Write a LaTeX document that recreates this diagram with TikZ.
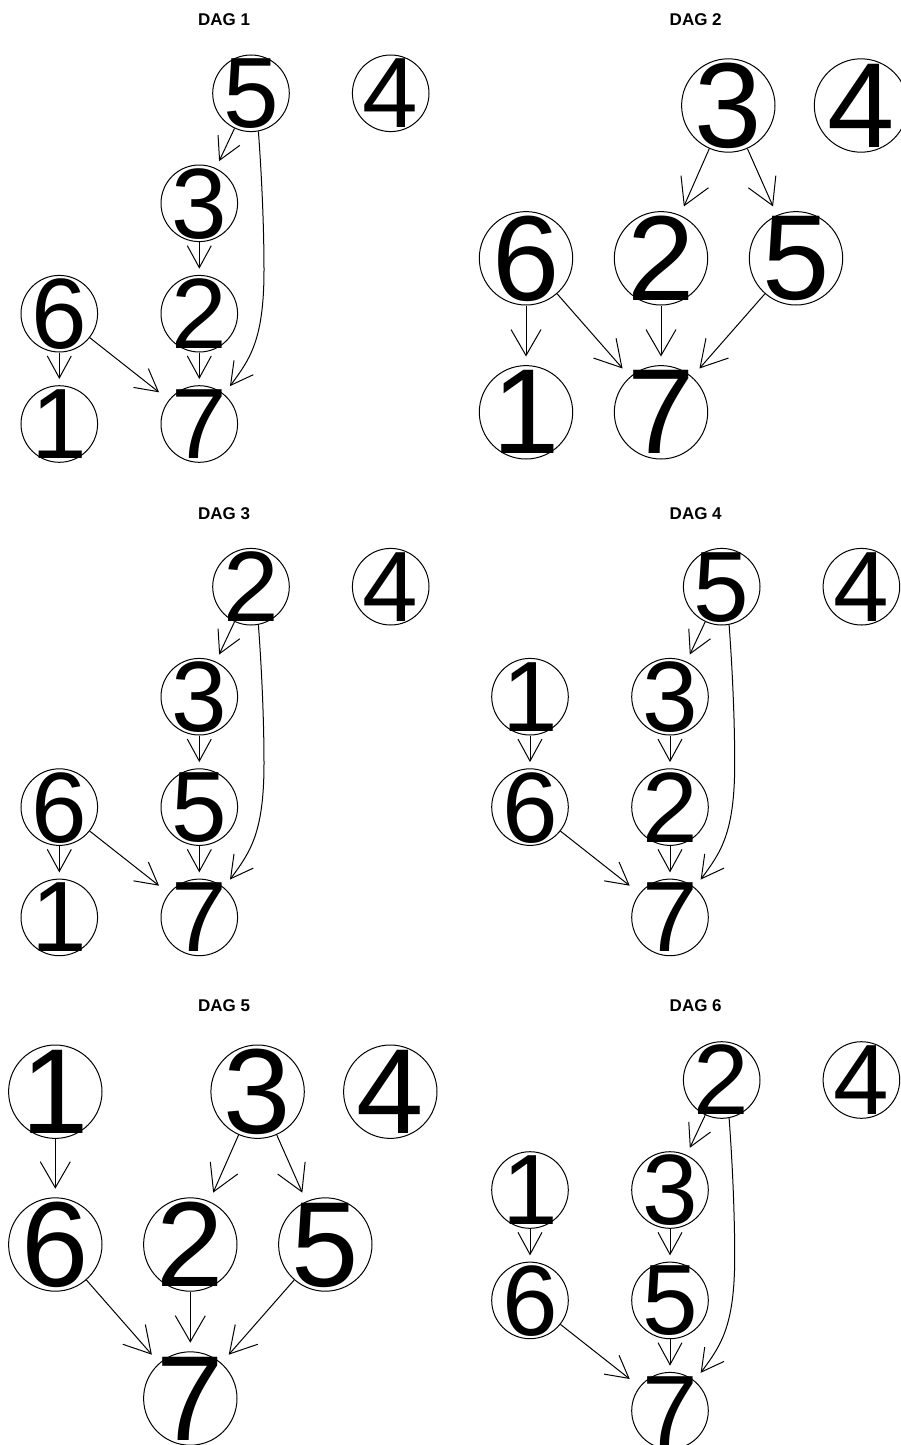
\documentclass[tikz,border=0pt]{standalone}
\usepackage{fontspec}
\setmainfont{Liberation Sans}
\usetikzlibrary{arrows.meta,shapes.geometric}
\newcommand\lab[1]{\makebox[0pt]{\raisebox{-.5\height}[0pt][0pt]{#1}}}
\newcommand\vtx[4]{\node[vtx] (#1) at (#2,#3) {\lab{#4}};\node[tgt] (#1e) at (#2,#3) {};}
\tikzset{
  ttl/.style={font=\bfseries\fontsize{17}{17}\selectfont, inner sep=0pt},
  small/.style={
    vtx/.style={circle,draw,line width=1pt,minimum size=76.6pt,inner sep=0pt,font=\fontsize{100}{100}\selectfont},
    tgt/.style={ellipse,minimum width=113.2pt,minimum height=89.6pt,inner sep=0pt},
    arr/.style={line width=1pt,-{Straight Barb[length=22pt,width=24pt]}}},
  big/.style={
    vtx/.style={circle,draw,line width=1pt,minimum size=93.4pt,inner sep=0pt,font=\fontsize{121}{121}\selectfont},
    tgt/.style={ellipse,minimum width=123.8pt,minimum height=111.2pt,inner sep=0pt},
    arr/.style={line width=1pt,-{Straight Barb[length=26pt,width=30pt]}}},
}
\begin{document}
\begin{tikzpicture}[x=1pt,y=-1pt]
\useasboundingbox (0,0) rectangle (901,1445);
\fill[white] (0,0) rectangle (901,1445);
\clip (0,0) rectangle (901,1445);

% titles
\node[ttl] (t1) at (224,19.7) {DAG 1};
\node[ttl] (t2) at (695.7,19.7) {DAG 2};
\node[ttl] (t3) at (224,513.3) {DAG 3};
\node[ttl] (t4) at (695.7,513.3) {DAG 4};
\node[ttl] (t5) at (224,1005.8) {DAG 5};
\node[ttl] (t6) at (695.7,1005.8) {DAG 6};

% DAG 1
\begin{scope}[small]
\vtx{a5}{251}{93.3}{5}
\vtx{a4}{390.7}{93.3}{4}
\vtx{a3}{199.3}{203.3}{3}
\vtx{a6}{59.3}{313.7}{6}
\vtx{a2}{199.3}{313.7}{2}
\vtx{a1}{59.3}{424}{1}
\vtx{a7}{199.3}{424}{7}
\draw[arr] (a5) -- (a3e);
\draw[arr] (a3) -- (a2e);
\draw[arr] (a2) -- (a7e);
\draw[arr] (a6) -- (a1e);
\draw[arr] (a6) -- (a7e);
\draw[arr] (a5.-79) .. controls (262,180) and (264,230) .. (264,270) .. controls (264,340) and (250,359) .. (a7e.51.9);
\end{scope}

% DAG 3
\begin{scope}[small,shift={(0,493.4)}]
\vtx{c2}{251}{93.3}{2}
\vtx{c4}{390.7}{93.3}{4}
\vtx{c3}{199.3}{203.3}{3}
\vtx{c6}{59.3}{313.7}{6}
\vtx{c5}{199.3}{313.7}{5}
\vtx{c1}{59.3}{424}{1}
\vtx{c7}{199.3}{424}{7}
\draw[arr] (c2) -- (c3e);
\draw[arr] (c3) -- (c5e);
\draw[arr] (c5) -- (c7e);
\draw[arr] (c6) -- (c1e);
\draw[arr] (c6) -- (c7e);
\draw[arr] (c2.-79) .. controls (262,180) and (264,230) .. (264,270) .. controls (264,340) and (250,359) .. (c7e.51.9);
\end{scope}

% DAG 4
\begin{scope}[small,shift={(470.7,493.4)}]
\vtx{d5}{251}{93.3}{5}
\vtx{d4}{390.7}{93.3}{4}
\vtx{d1}{59.3}{203.3}{1}
\vtx{d3}{199.3}{203.3}{3}
\vtx{d6}{59.3}{313.7}{6}
\vtx{d2}{199.3}{313.7}{2}
\vtx{d7}{199.3}{424}{7}
\draw[arr] (d5) -- (d3e);
\draw[arr] (d3) -- (d2e);
\draw[arr] (d2) -- (d7e);
\draw[arr] (d1) -- (d6e);
\draw[arr] (d6) -- (d7e);
\draw[arr] (d5.-79) .. controls (262,180) and (264,230) .. (264,270) .. controls (264,340) and (250,359) .. (d7e.51.9);
\end{scope}

% DAG 6
\begin{scope}[small,shift={(470.7,986.7)}]
\vtx{f2}{251}{93.3}{2}
\vtx{f4}{390.7}{93.3}{4}
\vtx{f1}{59.3}{203.3}{1}
\vtx{f3}{199.3}{203.3}{3}
\vtx{f6}{59.3}{313.7}{6}
\vtx{f5}{199.3}{313.7}{5}
\vtx{f7}{199.3}{424}{7}
\draw[arr] (f2) -- (f3e);
\draw[arr] (f3) -- (f5e);
\draw[arr] (f5) -- (f7e);
\draw[arr] (f1) -- (f6e);
\draw[arr] (f6) -- (f7e);
\draw[arr] (f2.-79) .. controls (262,180) and (264,230) .. (264,270) .. controls (264,340) and (250,359) .. (f7e.51.9);
\end{scope}

% DAG 2
\begin{scope}[big]
\vtx{b3}{728.3}{105.5}{3}
\vtx{b4}{861}{105.5}{4}
\vtx{b6}{526}{258.3}{6}
\vtx{b2}{661}{258.3}{2}
\vtx{b5}{796}{258.3}{5}
\vtx{b1}{526}{412.3}{1}
\vtx{b7}{661}{412.3}{7}
\draw[arr] (b3) -- (b2e);
\draw[arr] (b3) -- (b5e);
\draw[arr] (b6) -- (b1e);
\draw[arr] (b6) -- (b7e);
\draw[arr] (b2) -- (b7e);
\draw[arr] (b5) -- (b7e);
\end{scope}

% DAG 5
\begin{scope}[big,shift={(-470.7,986.2)}]
\vtx{e1}{526}{105.5}{1}
\vtx{e3}{728.3}{105.5}{3}
\vtx{e4}{861}{105.5}{4}
\vtx{e6}{526}{258.3}{6}
\vtx{e2}{661}{258.3}{2}
\vtx{e5}{796}{258.3}{5}
\vtx{e7}{661}{412.3}{7}
\draw[arr] (e1) -- (e6e);
\draw[arr] (e3) -- (e2e);
\draw[arr] (e3) -- (e5e);
\draw[arr] (e6) -- (e7e);
\draw[arr] (e2) -- (e7e);
\draw[arr] (e5) -- (e7e);
\end{scope}
\end{tikzpicture}
\end{document}
